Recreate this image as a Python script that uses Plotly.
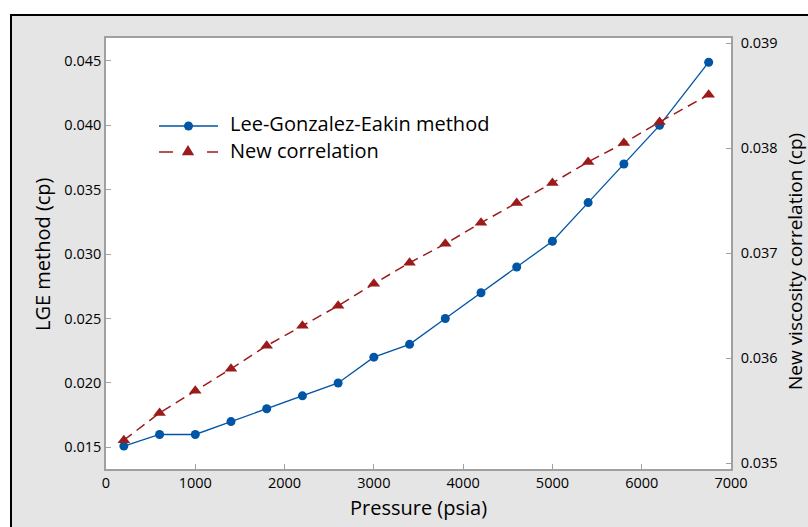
import plotly.graph_objects as go

# Pressure steps (psia)
pressure = [200, 600, 1000, 1400, 1800, 2200, 2600, 3000, 3400, 3800,
            4200, 4600, 5000, 5400, 5800, 6200, 6750]

# Gas viscosity from the Lee-Gonzalez-Eakin method (cp), left axis
lge_visc = [0.0151, 0.016, 0.016, 0.017, 0.018, 0.019, 0.020, 0.022, 0.023,
            0.025, 0.027, 0.029, 0.031, 0.034, 0.037, 0.040, 0.0449]

# Gas viscosity from the new correlation (cp), right axis
new_visc = [0.03522, 0.03548, 0.03569, 0.03590, 0.03612, 0.03631, 0.03650,
            0.03671, 0.03691, 0.03709, 0.03729, 0.03748, 0.03767, 0.03787,
            0.03805, 0.03825, 0.03851]

left_ticks = [0.015, 0.020, 0.025, 0.030, 0.035, 0.040, 0.045]
right_ticks = [0.035, 0.036, 0.037, 0.038, 0.039]
x_ticks = [0, 1000, 2000, 3000, 4000, 5000, 6000, 7000]

series_names = ["Lee-Gonzalez-Eakin method", "New correlation"]

BLUE = "#0055A5"
RED = "#9B1B1B"
AXIS_GRAY = "#A0A0A0"
BG_GRAY = "#E5E5E5"
FONT = "Open Sans"

W, H = 808, 527
ML, MR, MT, MB = 106, 77, 38, 58
PW, PH = W - ML - MR, H - MT - MB


def px(x):
    return (x - ML) / PW


def py(y):
    return (H - MB - y) / PH


fig = go.Figure()

fig.add_trace(go.Scatter(
    x=pressure, y=lge_visc, name=series_names[0], mode="lines+markers",
    line=dict(color=BLUE, width=1.3),
    marker=dict(symbol="circle", size=9, color=BLUE),
    yaxis="y", showlegend=False,
))
fig.add_trace(go.Scatter(
    x=pressure, y=new_visc, name=series_names[1], mode="lines+markers",
    line=dict(color=RED, width=1.5, dash="10px,6px"),
    marker=dict(symbol="triangle-up", size=11, color=RED),
    yaxis="y2", showlegend=False,
))

shapes = [
    # framed gray panel
    dict(type="rect", xref="paper", yref="paper", layer="below",
         x0=px(11), x1=px(W + 20), y0=py(H + 20), y1=py(15),
         fillcolor=BG_GRAY, line=dict(color="black", width=2)),
    # white plotting area
    dict(type="rect", xref="paper", yref="paper", layer="below",
         x0=0, x1=1, y0=0, y1=1, fillcolor="white", line=dict(width=0)),
]

# legend keys
ly1, ly2 = 126, 152
shapes.append(dict(type="line", xref="paper", yref="paper",
                   x0=px(159), x1=px(218), y0=py(ly1), y1=py(ly1),
                   line=dict(color=BLUE, width=1.3)))
shapes.append(dict(type="circle", xref="paper", yref="paper",
                   xsizemode="pixel", ysizemode="pixel",
                   xanchor=px(188.5), yanchor=py(ly1),
                   x0=-4.5, x1=4.5, y0=-4.5, y1=4.5,
                   fillcolor=BLUE, line=dict(width=0)))
for a, b in [(159, 173), (207, 218)]:
    shapes.append(dict(type="line", xref="paper", yref="paper",
                       x0=px(a), x1=px(b), y0=py(ly2), y1=py(ly2),
                       line=dict(color=RED, width=1.5)))
shapes.append(dict(type="path", xref="paper", yref="paper",
                   xsizemode="pixel", ysizemode="pixel",
                   xanchor=px(188), yanchor=py(ly2 - 1),
                   path="M -6.2 -4.3 L 6.2 -4.3 L 0 6 Z",
                   fillcolor=RED, line=dict(width=0)))

TITLE_SIZE = 20
annotations = [
    dict(text=series_names[0], x=px(228), y=py(123), xref="paper", yref="paper",
         xanchor="left", yanchor="middle", showarrow=False,
         font=dict(family=FONT, size=TITLE_SIZE, color="black")),
    dict(text=series_names[1], x=px(228), y=py(150), xref="paper", yref="paper",
         xanchor="left", yanchor="middle", showarrow=False,
         font=dict(family=FONT, size=TITLE_SIZE, color="black")),
    dict(text="Pressure (psia)", x=0.5, y=py(507), xref="paper", yref="paper",
         xanchor="center", yanchor="middle", showarrow=False,
         font=dict(family=FONT, size=TITLE_SIZE, color="black")),
    dict(text="LGE method (cp)", x=px(42), y=py(254), xref="paper", yref="paper",
         xanchor="center", yanchor="middle", showarrow=False, textangle=-90,
         font=dict(family=FONT, size=TITLE_SIZE, color="black")),
    dict(text="New viscosity correlation (cp)", x=px(795), y=py(262),
         xref="paper", yref="paper", xanchor="center", yanchor="middle",
         showarrow=False, textangle=-90, borderpad=0,
         font=dict(family=FONT, size=19, color="black")),
]

tick_font = dict(family=FONT, size=14.5, color="black")

fig.update_layout(
    width=W, height=H, autosize=False,
    margin=dict(l=ML, r=MR, t=MT, b=MB, pad=0),
    paper_bgcolor="white", plot_bgcolor="rgba(0,0,0,0)",
    shapes=shapes, annotations=annotations,
    xaxis=dict(range=[0, 7000], tickvals=x_ticks, ticks="inside", ticklen=5,
               tickcolor=AXIS_GRAY, tickwidth=1, showline=True,
               linecolor=AXIS_GRAY, linewidth=1.5, mirror=True,
               showgrid=False, zeroline=False, tickfont=tick_font,
               ticklabelstandoff=0),
    yaxis=dict(range=[0.01332, 0.04678], tickvals=left_ticks,
               tickformat=".3f", ticks="inside", ticklen=5,
               tickcolor=AXIS_GRAY, tickwidth=1, showline=True,
               linecolor=AXIS_GRAY, linewidth=1.5, showgrid=False,
               zeroline=False, tickfont=tick_font),
    yaxis2=dict(range=[0.034946, 0.03905], tickvals=right_ticks,
                tickformat=".3f", overlaying="y", side="right",
                ticks="inside", ticklen=5, tickcolor=AXIS_GRAY, tickwidth=1,
                showline=True, linecolor=AXIS_GRAY, linewidth=1.5,
                showgrid=False, zeroline=False, tickfont=tick_font,
                ticklabelstandoff=5),
    showlegend=False,
)

fig.write_html("out.html")
